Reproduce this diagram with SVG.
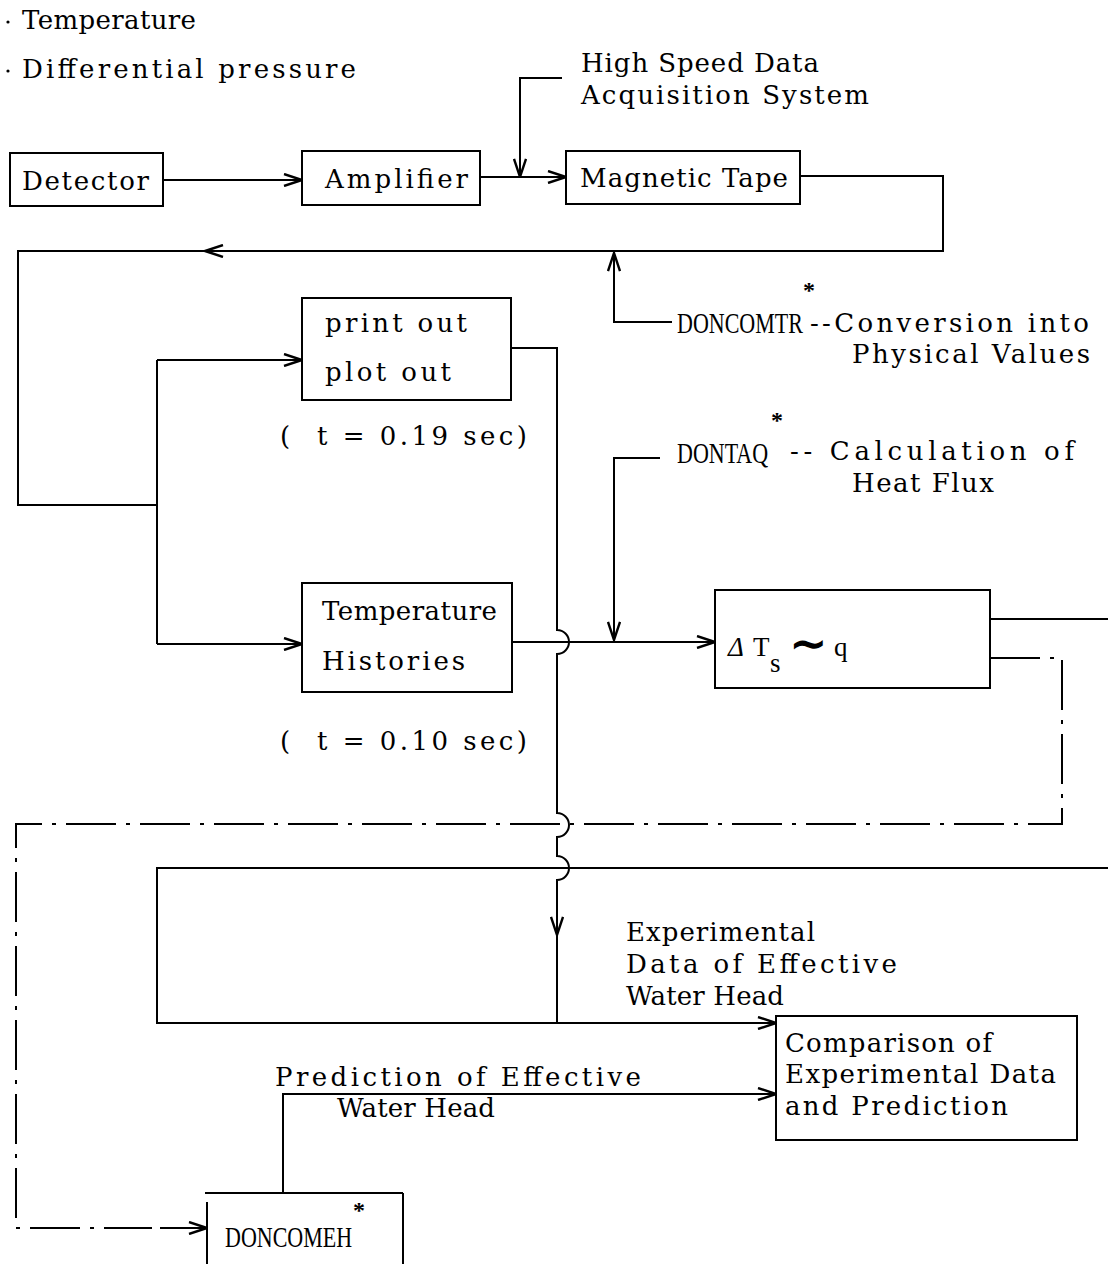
<svg xmlns="http://www.w3.org/2000/svg" width="1108" height="1264" viewBox="0 0 1108 1264">
<style>
  .bg{fill:#fff}
  .box{fill:none;stroke:#000;stroke-width:2}
  .ln{fill:none;stroke:#000;stroke-width:2}
  .dd{fill:none;stroke:#000;stroke-width:2;stroke-dasharray:50 10 4 10}
  .t{font-family:"DejaVu Serif","Liberation Serif",serif;font-size:26px;fill:#000}
  .c{font-family:"Liberation Serif","DejaVu Serif",serif;font-size:27px;fill:#000}
  .n{font-family:"Liberation Serif","DejaVu Serif",serif;font-size:22px;fill:#000}
  .s{font-family:"Liberation Serif","DejaVu Serif",serif;font-size:24px;font-weight:bold;fill:#000}
</style>
<defs>
  <marker id="ah" viewBox="0 0 20 14" refX="19" refY="7" markerWidth="20" markerHeight="14" markerUnits="userSpaceOnUse" orient="auto">
    <path d="M1,1 L19,7 L1,13" fill="none" stroke="#000" stroke-width="2.4"/>
  </marker>
</defs>
<rect class="bg" x="0" y="0" width="1108" height="1264"/>

<g id="legend">
  <circle cx="8" cy="22" r="1.6" fill="#000"/>
  <text class="t" x="22" y="29" textLength="174" lengthAdjust="spacing">Temperature</text>
  <circle cx="8" cy="71" r="1.6" fill="#000"/>
  <text class="t" x="22" y="78" textLength="334" lengthAdjust="spacing">Differential pressure</text>
</g>

<g id="hsdas">
  <text class="t" x="581" y="72" textLength="238" lengthAdjust="spacing">High Speed Data</text>
  <text class="t" x="581" y="104" textLength="288" lengthAdjust="spacing">Acquisition System</text>
</g>

<g id="detector">
  <rect class="box" x="10" y="153" width="153" height="53"/>
  <text class="t" x="22" y="190" textLength="127" lengthAdjust="spacing">Detector</text>
</g>

<g id="amplifier">
  <rect class="box" x="302" y="151" width="178" height="54"/>
  <text class="t" x="325" y="188" textLength="143" lengthAdjust="spacing">Amplifier</text>
</g>

<g id="magnetic-tape">
  <rect class="box" x="566" y="151" width="234" height="53"/>
  <text class="t" x="580" y="187" textLength="208" lengthAdjust="spacing">Magnetic Tape</text>
</g>

<g id="doncomtr">
  <text class="n" transform="translate(677,333) scale(1,1.3)">DONCOMTR</text>
  <text class="s" x="803" y="298">*</text>
  <text class="t" x="810" y="332" textLength="279" lengthAdjust="spacing">--Conversion into</text>
  <text class="t" x="852" y="363" textLength="238" lengthAdjust="spacing">Physical Values</text>
</g>

<g id="print-out">
  <rect class="box" x="302" y="298" width="209" height="102"/>
  <text class="t" x="325" y="332" textLength="142" lengthAdjust="spacing">print out</text>
  <text class="t" x="325" y="381" textLength="126" lengthAdjust="spacing">plot out</text>
  <text class="t" x="280" y="445" xml:space="preserve" textLength="247" lengthAdjust="spacing">(  t = 0.19 sec)</text>
</g>

<g id="dontaq">
  <text class="n" transform="translate(677,463) scale(1,1.3)">DONTAQ</text>
  <text class="s" x="771" y="428">*</text>
  <text class="t" x="790" y="460" xml:space="preserve" textLength="284" lengthAdjust="spacing">-- Calculation of</text>
  <text class="t" x="852" y="492" textLength="142" lengthAdjust="spacing">Heat Flux</text>
</g>

<g id="temperature-histories">
  <rect class="box" x="302" y="583" width="210" height="109"/>
  <text class="t" x="322" y="620" textLength="175" lengthAdjust="spacing">Temperature</text>
  <text class="t" x="322" y="670" textLength="143" lengthAdjust="spacing">Histories</text>
  <text class="t" x="280" y="750" xml:space="preserve" textLength="247" lengthAdjust="spacing">(  t = 0.10 sec)</text>
</g>

<g id="delta-ts">
  <rect class="box" x="715" y="590" width="275" height="98"/>
  <text class="c" x="728" y="656" font-size="31" font-style="italic">Δ</text>
  <text class="c" x="753" y="656" font-size="31">T</text>
  <text class="c" x="770" y="672" font-size="31">s</text>
  <text x="789" y="659" font-family="DejaVu Sans, sans-serif" font-size="46" font-weight="bold">∼</text>
  <text class="c" x="834" y="656" font-size="31">q</text>
</g>

<g id="experimental-label">
  <text class="t" x="626" y="941" textLength="189" lengthAdjust="spacing">Experimental</text>
  <text class="t" x="626" y="973" textLength="271" lengthAdjust="spacing">Data of Effective</text>
  <text class="t" x="626" y="1005" textLength="158" lengthAdjust="spacing">Water Head</text>
</g>

<g id="comparison">
  <rect class="box" x="776" y="1016" width="301" height="124"/>
  <text class="t" x="785" y="1052" textLength="207" lengthAdjust="spacing">Comparison of</text>
  <text class="t" x="785" y="1083" textLength="271" lengthAdjust="spacing">Experimental Data</text>
  <text class="t" x="785" y="1115" textLength="223" lengthAdjust="spacing">and Prediction</text>
</g>

<g id="prediction-label">
  <text class="t" x="275" y="1086" textLength="366" lengthAdjust="spacing">Prediction of Effective</text>
  <text class="t" x="337" y="1117" textLength="158" lengthAdjust="spacing">Water Head</text>
</g>

<g id="doncomeh">
  <path class="box" d="M205,1193 H403 M207,1202 V1264 M403,1193 V1264"/>
  <text class="n" transform="translate(225,1247) scale(1,1.3)">DONCOMEH</text>
  <text class="s" x="353" y="1218">*</text>
</g>

<g id="connectors">
  <path class="ln" d="M163,180 H302" marker-end="url(#ah)"/>
  <path class="ln" d="M480,177 H566" marker-end="url(#ah)"/>
  <path class="ln" d="M562,78 H520 V177" marker-end="url(#ah)"/>
  <path class="ln" d="M800,176 H943 V251 H205"/>
  <path class="ln" d="M240,251 H205" marker-end="url(#ah)"/>
  <path class="ln" d="M205,251 H18 V505 H157"/>
  <path class="ln" d="M672,322 H614 V253" marker-end="url(#ah)"/>
  <path class="ln" d="M157,360 V644"/>
  <path class="ln" d="M157,360 H302" marker-end="url(#ah)"/>
  <path class="ln" d="M157,644 H302" marker-end="url(#ah)"/>
  <path class="ln" d="M512,642 H715" marker-end="url(#ah)"/>
  <path class="ln" d="M660,458 H614 V640" marker-end="url(#ah)"/>
  <path class="ln" d="M511,348 H557 V630 A12,12 0 0 1 557,654 V813 A12,12 0 0 1 557,837 V856 A12,12 0 0 1 557,880 V935"/>
  <path class="ln" d="M557,900 V935" marker-end="url(#ah)"/>
  <path class="ln" d="M557,935 V1023"/>
  <path class="ln" d="M990,619 H1108"/>
  <path class="ln" d="M1108,868 H157 V1023 H776" marker-end="url(#ah)"/>
  <path class="dd" d="M990,658 H1062 V824 H16 V1228 H150"/>
  <path class="ln" d="M150,1228 H207" stroke-dasharray="2 8 45 0" marker-end="url(#ah)"/>
  <path class="ln" d="M283,1193 V1094 H776" marker-end="url(#ah)"/>
</g>
</svg>
